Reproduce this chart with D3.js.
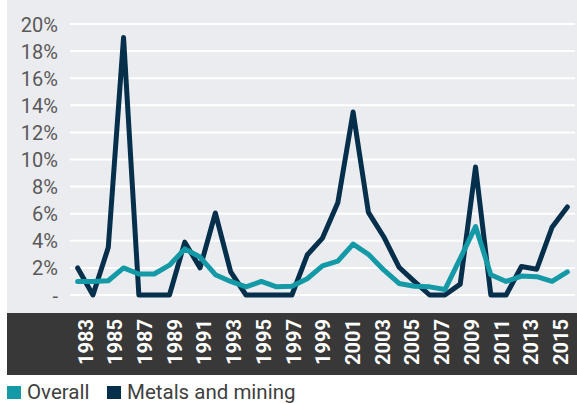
<!DOCTYPE html>
<html>
<head>
<meta charset="utf-8">
<script src="https://cdn.jsdelivr.net/npm/d3@7"></script>
<style>
  html, body { margin: 0; padding: 0; background: #ffffff; }
  svg { display: block; font-family: Roboto, "Noto Sans", sans-serif; }
</style>
</head>
<body>
<svg id="chart" width="577" height="403"></svg>
<script>
const years = d3.range(1983, 2016);
const labelYears = d3.range(1983, 2016, 2);
const overall = [1.0, 1.0, 1.05, 2.0, 1.55, 1.55, 2.2, 3.4, 2.8, 1.5, 1.0, 0.6, 1.0, 0.6, 0.65, 1.2, 2.15, 2.5, 3.75, 3.0, 1.85, 0.85, 0.65, 0.6, 0.4, 2.7, 5.05, 1.5, 1.0, 1.4, 1.35, 1.0, 1.7];
const metals = [2.0, 0.0, 3.5, 19.0, 0.0, 0.0, 0.0, 3.9, 2.0, 6.05, 1.7, 0.0, 0.0, 0.0, 0.0, 2.95, 4.2, 6.8, 13.5, 6.1, 4.3, 2.05, 1.0, 0.0, 0.0, 0.8, 9.45, 0.0, 0.0, 2.1, 1.9, 5.0, 6.5];
const yTicks = [0, 2, 4, 6, 8, 10, 12, 14, 16, 18, 20];
const seriesNames = ["Overall", "Metals and mining"];
const seriesColors = ["#139aa6", "#052f4a"];

const svg = d3.select("#chart");

// backgrounds
svg.append("rect").attr("x", 7).attr("y", 0).attr("width", 570).attr("height", 313).attr("fill", "#ebecf0");
svg.append("rect").attr("x", 7).attr("y", 313).attr("width", 570).attr("height", 62).attr("fill", "#383838");

const x = d3.scaleBand().domain(years).range([70, 575]);
const xc = d => x(d) + x.bandwidth() / 2;
const xl = d3.scalePoint().domain(labelYears).range([85, 560.5]);
const y = d3.scaleLinear().domain([0, 20]).range([295, 24]);

// gridlines
svg.append("g").selectAll("line").data(yTicks).join("line")
  .attr("x1", 70).attr("x2", 575)
  .attr("y1", d => y(d)).attr("y2", d => y(d))
  .attr("stroke", "#ffffff").attr("stroke-width", 2);

// y axis labels
const yAxis = d3.axisLeft(y).tickValues(yTicks).tickSize(0).tickPadding(0)
  .tickFormat(d => d === 0 ? "-" : d + "%");
const yg = svg.append("g").attr("transform", "translate(58,0)").call(yAxis);
yg.select(".domain").remove();
yg.selectAll("text").attr("font-size", 20).attr("fill", "#595959")
  .attr("font-family", "Roboto, sans-serif").attr("dy", "0.35em");

// x axis labels
const xAxis = d3.axisBottom(xl).tickSize(0).tickPadding(0).tickFormat(d => String(d));
const xg = svg.append("g").attr("transform", "translate(0,319)").call(xAxis);
xg.select(".domain").remove();
xg.selectAll("text")
  .attr("font-size", 20).attr("font-weight", "bold").attr("fill", "#ffffff")
  .attr("font-family", "Roboto, sans-serif")
  .attr("text-anchor", "end")
  .attr("transform", "rotate(-90)")
  .attr("x", 0).attr("y", 0).attr("dy", "0.35em");

// lines
const line = d3.line().x((d, i) => xc(years[i])).y(d => y(d));
svg.append("path").datum(metals).attr("d", line)
  .attr("fill", "none").attr("stroke", seriesColors[1]).attr("stroke-width", 5)
  .attr("stroke-linejoin", "round").attr("stroke-linecap", "round");
svg.append("path").datum(overall).attr("d", line)
  .attr("fill", "none").attr("stroke", seriesColors[0]).attr("stroke-width", 5)
  .attr("stroke-linejoin", "round").attr("stroke-linecap", "round");

// legend
const legendX = [7, 107];
const lg = svg.append("g");
seriesNames.forEach((name, i) => {
  lg.append("rect").attr("x", legendX[i]).attr("y", 386).attr("width", 14).attr("height", 13)
    .attr("fill", seriesColors[i]);
  lg.append("text").attr("x", legendX[i] + 20).attr("y", 398.5)
    .attr("font-size", 20.5).attr("fill", "#404040").text(name);
});
</script>
</body>
</html>
